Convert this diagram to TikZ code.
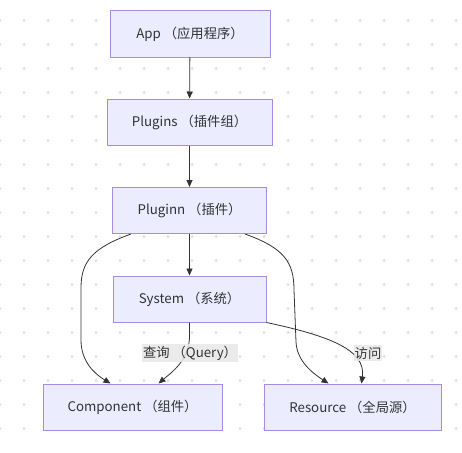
\documentclass[tikz,border=0pt]{standalone}
\usepackage{fontspec}
\setmainfont{Noto Sans CJK SC}
\usetikzlibrary{arrows.meta}
\definecolor{boxfill}{HTML}{ECECFF}
\definecolor{boxline}{HTML}{A98BE3}
\definecolor{inkc}{HTML}{333333}
\definecolor{dotc}{HTML}{DCDCDC}
\definecolor{labelfill}{HTML}{E8E8E8}
\begin{document}
\begin{tikzpicture}[
    x=1pt, y=-1pt,
    box/.style={rectangle, draw=boxline, fill=boxfill, line width=1pt, text=inkc, font=\fontsize{13.3}{16}\selectfont, minimum height=46pt, inner sep=0pt},
    edge/.style={-{Triangle[length=7pt, width=6pt]}, draw=inkc, line width=0.8pt},
    edgelabel/.style={rectangle, fill=labelfill, fill opacity=0.85, text opacity=1, text=inkc, font=\fontsize{13.3}{16}\selectfont, inner xsep=1pt, inner ysep=2pt}
]
\useasboundingbox (0,0) rectangle (462,452);

% dotted background grid
\foreach \x in {0,24,...,456}
  \foreach \y in {20.5,44.5,...,452}
    \fill[dotc] (\x,\y) circle (1.5pt);

% boxes
\node[box, minimum width=160pt] (app) at (190,34) {App （应用程序）};
\node[box, minimum width=165pt] (plugins) at (189.5,122) {Plugins （插件组）};
\node[box, minimum width=154pt] (pluginn) at (189.5,210.5) {Pluginn （插件）};
\node[box, minimum width=153pt] (system) at (189.5,299) {System （系统）};
\node[box, minimum width=179pt] (component) at (132.5,407) {Component （组件）};
\node[box, minimum width=177pt] (resource) at (352.5,407) {Resource （全局源）};

% straight arrows down the middle
\draw[edge] (app) -- (plugins);
\draw[edge] (plugins) -- (pluginn);
\draw[edge] (pluginn) -- (system);

% curved arrows from the plugin
\draw[edge] ([xshift=19pt]pluginn.south west) .. controls (92,248) and (81,262) .. (81,288)
  -- (81,340) .. controls (81,362) and (95,374) .. ([xshift=-22pt]component.north);
\draw[edge] ([xshift=-22pt]pluginn.south east) .. controls (284,248) and (294,262) .. (294,290)
  -- (296,342) .. controls (297,362) and (314,374) .. ([xshift=-24pt]resource.north);

% arrows from the system, with labels
\draw[edge] (system.south) -- (189.5,336) .. controls (189.5,360) and (172,372) .. ([xshift=26pt]component.north);
\draw[edge] (system.south east) .. controls (330,336) and (366,350) .. ([xshift=9pt]resource.north);
\node[edgelabel] (query) at (190,353) {查询 （Query）};
\node[edgelabel] (access) at (368,353) {访问};

\end{tikzpicture}
\end{document}
